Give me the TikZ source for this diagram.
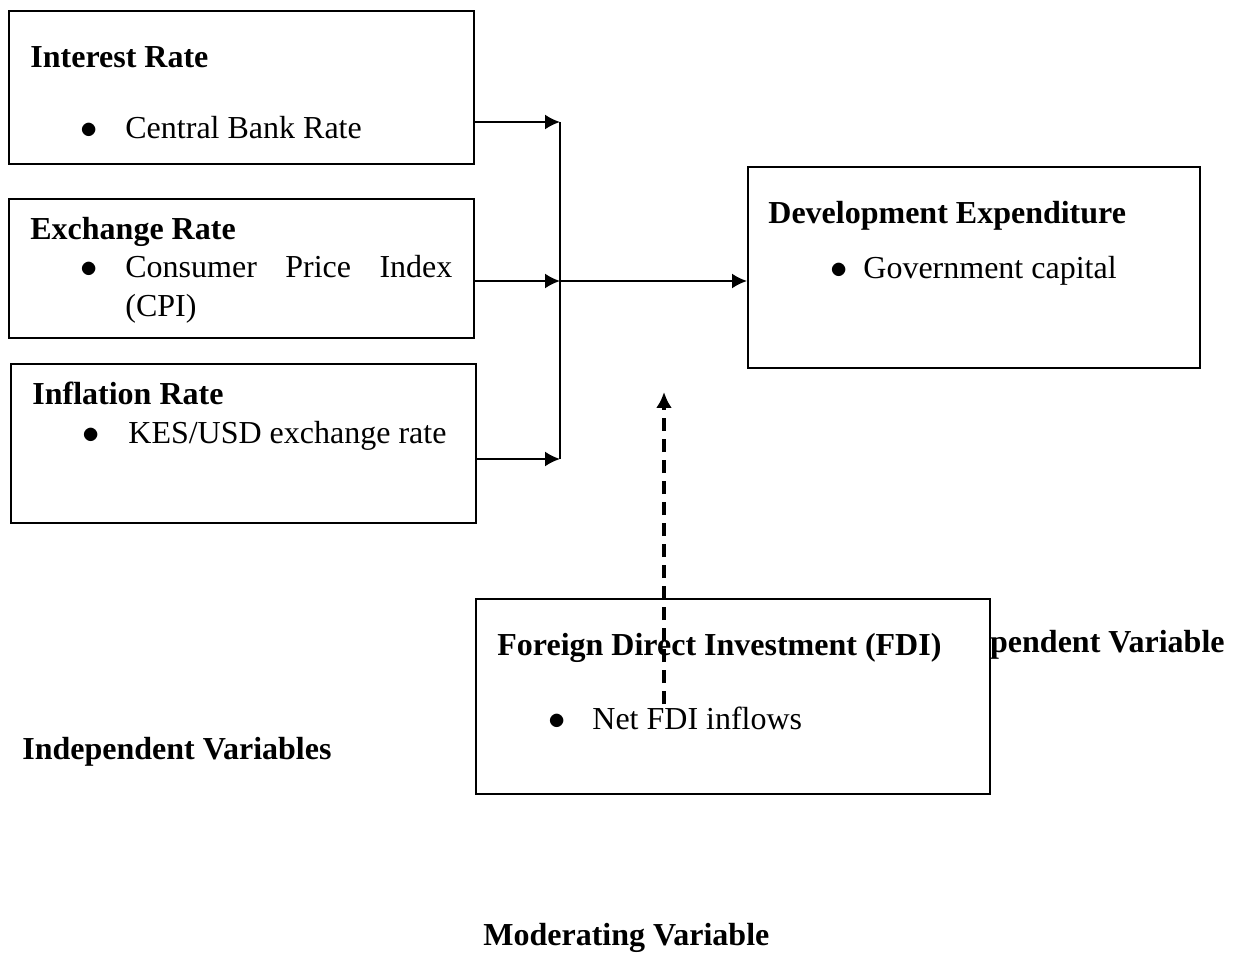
\documentclass[tikz,border=0pt]{standalone}
\usepackage{fontspec}
\setmainfont{Liberation Serif}
\usepackage{tikz}
\usetikzlibrary{arrows.meta,positioning}

\newcommand{\figsize}{\fontsize{16}{19}\selectfont}
\tikzset{
  varbox/.style={draw, line width=0.8pt, fill=white, inner sep=0pt, anchor=north west},
  lbl/.style={anchor=base west, inner sep=0pt},
  hd/.style={lbl, font=\figsize\bfseries},
  arr/.style={-{Latex[length=7.5pt,width=7.5pt]}, line width=1pt},
  modarr/.style={-{Latex[length=8pt,width=8pt]}, line width=1.7pt, dash pattern=on 6.5pt off 4pt},
}

\begin{document}
\begin{tikzpicture}[x=0.5pt, y=-0.5pt, font=\figsize]
        \useasboundingbox (0,0) rectangle (1238,973);

        % independent variables
        \node[varbox, minimum width=232.5pt, minimum height=76.5pt] (ir)  at (8,10)  {};
        \node[varbox, minimum width=232.5pt, minimum height=69.5pt] (er)  at (8,198) {};
        \node[varbox, minimum width=232.5pt, minimum height=79.5pt] (inf) at (10,363) {};

        \node[hd]  (irT)  at (30,68)   {Interest Rate};
        \node[lbl] (irB)  at (80,139)  {$\bullet$};
        \node[lbl] (irI)  at (125,139) {Central Bank Rate};

        \node[hd]  (erT)  at (30,240)  {Exchange Rate};
        \node[lbl] (erB)  at (80,278)  {$\bullet$};
        \node[lbl] (erI)  at (125,278) {\hbox to 163.5pt{Consumer\hfill Price\hfill Index}};
        \node[lbl] (erI2) at (125,317) {(CPI)};

        \node[hd]  (infT) at (32,405)  {Inflation Rate};
        \node[lbl] (infB) at (82,444)  {$\bullet$};
        \node[lbl] (infI) at (128,444) {KES/USD exchange rate};

        % dependent variable
        \node[varbox, minimum width=226pt, minimum height=100.5pt] (dev) at (747,166) {};
        \node[hd]  (devT) at (768,224) {Development Expenditure};
        \node[lbl] (devB) at (830,279) {$\bullet$};
        \node[lbl] (devI) at (863,279) {Government capital};

        % moderating variable
        \node[anchor=base east, inner sep=0pt, font=\figsize\bfseries] (depL) at (1225,652) {pendent Variable};
        \node[varbox, minimum width=257pt, minimum height=97.5pt] (fdi) at (475,598) {};
        \node[hd]  (fdiT) at (497,655) {Foreign Direct Investment (FDI)};
        \node[lbl] (fdiB) at (548,729) {$\bullet$};
        \node[lbl] (fdiI) at (592,729) {Net FDI inflows};

        \node[hd] (indL) at (22,759) {Independent Variables};
        \node[hd] (modL) at (483,945) {Moderating Variable};

        % connectors
        \coordinate (b1) at (560,122);
        \coordinate (b2) at (560,281);
        \coordinate (b3) at (560,459);
        \draw[arr] (ir.east |- b1) -- (b1);
        \draw[arr] (er.east |- b2) -- (b2);
        \draw[arr] (inf.east |- b3) -- (b3);
        \draw[line width=1pt] (b1) -- (b3);
        \draw[arr] (b2) -- (dev.west |- b2);

        \coordinate (m1) at (664,704);
        \coordinate (m2) at (664,392);
        \draw[modarr] (m1) -- (m2);
    \end{tikzpicture}
\end{document}
